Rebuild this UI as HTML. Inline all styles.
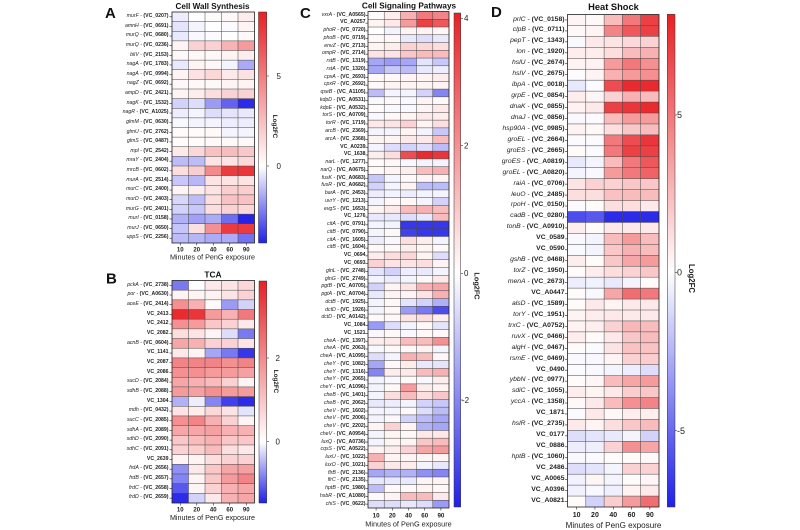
<!DOCTYPE html>
<html><head><meta charset="utf-8">
<style>
html,body{margin:0;padding:0;background:#fff}
body{width:800px;height:530px;overflow:hidden;position:relative;font-family:"Liberation Sans",Arial,sans-serif;color:#1e1e1e}
svg{position:absolute;left:0;top:0}
.l{position:absolute;text-align:right;white-space:nowrap;color:#222}
.l div{white-space:nowrap}
.l i{font-style:italic}
.l b{font-weight:bold}
</style></head><body>
<svg id="s" width="800" height="530" viewBox="0 0 800 530" font-family="Liberation Sans, Arial, sans-serif">
<defs>
<linearGradient id="gA" x1="0" y1="0" x2="0" y2="1"><stop offset="0" stop-color="rgb(232,32,36)"/><stop offset="0.667" stop-color="#fff"/><stop offset="1" stop-color="rgb(32,32,232)"/></linearGradient>
<linearGradient id="gB" x1="0" y1="0" x2="0" y2="1"><stop offset="0" stop-color="rgb(232,32,36)"/><stop offset="0.724" stop-color="#fff"/><stop offset="1" stop-color="rgb(32,32,232)"/></linearGradient>
<linearGradient id="gC" x1="0" y1="0" x2="0" y2="1"><stop offset="0" stop-color="rgb(232,32,36)"/><stop offset="0.527" stop-color="#fff"/><stop offset="1" stop-color="rgb(32,32,232)"/></linearGradient>
<linearGradient id="gD" x1="0" y1="0" x2="0" y2="1"><stop offset="0" stop-color="rgb(232,32,36)"/><stop offset="0.524" stop-color="#fff"/><stop offset="1" stop-color="rgb(32,32,232)"/></linearGradient>
</defs>
<!-- panel letters -->
<g font-weight="bold" font-size="15" fill="#111">
<text x="105" y="18">A</text>
<text x="106" y="283.5">B</text>
<text x="300" y="18">C</text>
<text x="491" y="17">D</text>
</g>
<!-- titles -->
<g font-weight="bold" fill="#111" text-anchor="middle">
<text x="212.5" y="8.8" font-size="8.1">Cell Wall Synthesis</text>
<text x="213" y="277.5" font-size="8.4">TCA</text>
<text x="409" y="8.6" font-size="8.2">Cell Signaling Pathways</text>
<text x="613.5" y="10" font-size="9.3">Heat Shock</text>
</g>
<!-- x tick labels -->
<g font-weight="bold" fill="#222" text-anchor="middle" font-size="6">
<text x="180.25" y="251.5">10</text><text x="196.75" y="251.5">20</text><text x="213.25" y="251.5">40</text><text x="229.75" y="251.5">60</text><text x="246.25" y="251.5">90</text>
<text x="180.25" y="511.5">10</text><text x="196.75" y="511.5">20</text><text x="213.25" y="511.5">40</text><text x="229.75" y="511.5">60</text><text x="246.25" y="511.5">90</text>
</g>
<g font-weight="bold" fill="#222" text-anchor="middle" font-size="6.2">
<text x="376.1" y="517.3">10</text><text x="392.3" y="517.3">20</text><text x="408.5" y="517.3">40</text><text x="424.7" y="517.3">60</text><text x="440.9" y="517.3">90</text>
</g>
<g font-weight="bold" fill="#222" text-anchor="middle" font-size="7">
<text x="576.65" y="517">10</text><text x="594.95" y="517">20</text><text x="613.25" y="517">40</text><text x="631.55" y="517">60</text><text x="649.85" y="517">90</text>
</g>
<!-- x titles -->
<g fill="#222" text-anchor="middle">
<text x="212.5" y="259.5" font-size="7.2">Minutes of PenG exposure</text>
<text x="212.5" y="520" font-size="7.2">Minutes of PenG exposure</text>
<text x="408.5" y="526.5" font-size="7.3">Minutes of PenG exposure</text>
<text x="613.5" y="527.8" font-size="8.1">Minutes of PenG exposure</text>
</g>
<!-- colorbars -->
<rect x="258.5" y="12" width="8.2" height="231" fill="url(#gA)" stroke="#333" stroke-width="0.5"/>
<rect x="259" y="281" width="7.7" height="222" fill="url(#gB)" stroke="#333" stroke-width="0.5"/>
<rect x="454" y="13" width="6.7" height="494" fill="url(#gC)" stroke="#333" stroke-width="0.5"/>
<rect x="667.3" y="14.3" width="7.7" height="492.7" fill="url(#gD)" stroke="#333" stroke-width="0.5"/>
<g stroke="#333" stroke-width="0.6">
<line x1="266.7" x2="269" y1="76" y2="76"/><line x1="266.7" x2="269" y1="166" y2="166"/>
<line x1="266.7" x2="269" y1="358" y2="358"/><line x1="266.7" x2="269" y1="441.7" y2="441.7"/>
<line x1="460.7" x2="463" y1="18.3" y2="18.3"/><line x1="460.7" x2="463" y1="145.7" y2="145.7"/><line x1="460.7" x2="463" y1="273.3" y2="273.3"/><line x1="460.7" x2="463" y1="400" y2="400"/>
<line x1="675" x2="677" y1="115" y2="115"/><line x1="675" x2="677" y1="272.3" y2="272.3"/><line x1="675" x2="677" y1="430.7" y2="430.7"/>
</g>
<g fill="#222" font-size="8">
<text x="276.5" y="78.9">5</text><text x="276.5" y="168.9">0</text>
<text x="275.5" y="360.9">2</text><text x="275.5" y="444.6">0</text>
<text x="464" y="21.2">4</text><text x="464" y="148.6">2</text><text x="464" y="276.2">0</text><text x="462" y="402.9">-2</text>
</g>
<g fill="#222" font-size="9">
<text x="677" y="118.2">5</text><text x="677" y="275.5">0</text><text x="677" y="433.9">-5</text>
</g>
<!-- Log2FC -->
<g font-weight="bold" fill="#222" text-anchor="middle">
<text transform="translate(272.8,126.5) rotate(90)" font-size="6.3">Log2FC</text>
<text transform="translate(273.8,381.5) rotate(90)" font-size="6.3">Log2FC</text>
<text transform="translate(474.4,286) rotate(90)" font-size="7.3">Log2FC</text>
<text transform="translate(689.2,278.5) rotate(90)" font-size="7.8">Log2FC</text>
</g>
</svg>

<!-- Row labels A -->
<div class="l" style="left:60px;top:12px;width:108.5px;font-size:5.2px;line-height:9.625px">
<div><i>murF</i> - <b>(VC_0207)</b></div>
<div><i>amnH</i> - <b>(VC_0691)</b></div>
<div><i>murQ</i> - <b>(VC_0680)</b></div>
<div><i>murQ</i> - <b>(VC_0236)</b></div>
<div><i>bliV</i> - <b>(VC_2153)</b></div>
<div><i>nagA</i> - <b>(VC_1783)</b></div>
<div><i>nagA</i> - <b>(VC_0994)</b></div>
<div><i>nagZ</i> - <b>(VC_0692)</b></div>
<div><i>ampD</i> - <b>(VC_2421)</b></div>
<div><i>nagK</i> - <b>(VC_1532)</b></div>
<div><i>nagR</i> - <b>(VC_A1025)</b></div>
<div><i>glmM</i> - <b>(VC_0630)</b></div>
<div><i>glmU</i> - <b>(VC_2762)</b></div>
<div><i>glmS</i> - <b>(VC_0487)</b></div>
<div><i>mpl</i> - <b>(VC_2542)</b></div>
<div><i>mraY</i> - <b>(VC_2404)</b></div>
<div><i>mrcB</i> - <b>(VC_0602)</b></div>
<div><i>murA</i> - <b>(VC_2514)</b></div>
<div><i>murC</i> - <b>(VC_2400)</b></div>
<div><i>murD</i> - <b>(VC_2403)</b></div>
<div><i>murG</i> - <b>(VC_2401)</b></div>
<div><i>murI</i> - <b>(VC_0158)</b></div>
<div><i>murJ</i> - <b>(VC_0650)</b></div>
<div><i>uppS</i> - <b>(VC_2256)</b></div>
</div>

<!-- Row labels B -->
<div class="l" style="left:60px;top:280.5px;width:108.5px;font-size:5.2px;line-height:9.674px">
<div><i>pckA</i> - <b>(VC_2738)</b></div>
<div><i>por</i> - <b>(VC_A0630)</b></div>
<div><i>aceE</i> - <b>(VC_2414)</b></div>
<div><b>VC_2413</b></div>
<div><b>VC_2412</b></div>
<div><b>VC_2082</b></div>
<div><i>acnB</i> - <b>(VC_0604)</b></div>
<div><b>VC_1141</b></div>
<div><b>VC_2087</b></div>
<div><b>VC_2086</b></div>
<div><i>sucD</i> - <b>(VC_2084)</b></div>
<div><i>sdhB</i> - <b>(VC_2088)</b></div>
<div><b>VC_1304</b></div>
<div><i>mdh</i> - <b>(VC_0432)</b></div>
<div><i>sucC</i> - <b>(VC_2085)</b></div>
<div><i>sdhA</i> - <b>(VC_2089)</b></div>
<div><i>sdhD</i> - <b>(VC_2090)</b></div>
<div><i>sdhC</i> - <b>(VC_2091)</b></div>
<div><b>VC_2639</b></div>
<div><i>frdA</i> - <b>(VC_2656)</b></div>
<div><i>frdB</i> - <b>(VC_2657)</b></div>
<div><i>frdC</i> - <b>(VC_2658)</b></div>
<div><i>frdD</i> - <b>(VC_2659)</b></div>
</div>

<!-- Row labels C -->
<div class="l" style="left:285px;top:11.5px;width:80.5px;font-size:5.2px;line-height:7.758px">
<div><i>vxrA</i> - <b>(VC_A0565)</b></div>
<div><b>VC_A0257</b></div>
<div><i>phoR</i> - <b>(VC_0720)</b></div>
<div><i>phoB</i> - <b>(VC_0719)</b></div>
<div><i>envZ</i> - <b>(VC_2713)</b></div>
<div><i>ompR</i> - <b>(VC_2714)</b></div>
<div><i>rstB</i> - <b>(VC_1319)</b></div>
<div><i>rstA</i> - <b>(VC_1320)</b></div>
<div><i>cpxA</i> - <b>(VC_2693)</b></div>
<div><i>cpxR</i> - <b>(VC_2692)</b></div>
<div><i>qseB</i> - <b>(VC_A1105)</b></div>
<div><i>kdpD</i> - <b>(VC_A0531)</b></div>
<div><i>kdpE</i> - <b>(VC_A0532)</b></div>
<div><i>torS</i> - <b>(VC_A0709)</b></div>
<div><i>torR</i> - <b>(VC_1719)</b></div>
<div><i>arcB</i> - <b>(VC_2369)</b></div>
<div><i>arcA</i> - <b>(VC_2368)</b></div>
<div><b>VC_A0239</b></div>
<div><b>VC_1638</b></div>
<div><i>narL</i> - <b>(VC_1277)</b></div>
<div><i>narQ</i> - <b>(VC_A0675)</b></div>
<div><i>fusK</i> - <b>(VC_A0683)</b></div>
<div><i>fusR</i> - <b>(VC_A0682)</b></div>
<div><i>barA</i> - <b>(VC_2453)</b></div>
<div><i>uvrY</i> - <b>(VC_1213)</b></div>
<div><i>evgS</i> - <b>(VC_1653)</b></div>
<div><b>VC_1276</b></div>
<div><i>citA</i> - <b>(VC_0791)</b></div>
<div><i>citB</i> - <b>(VC_0790)</b></div>
<div><i>citA</i> - <b>(VC_1605)</b></div>
<div><i>citB</i> - <b>(VC_1604)</b></div>
<div><b>VC_0694</b></div>
<div><b>VC_0693</b></div>
<div><i>glnL</i> - <b>(VC_2748)</b></div>
<div><i>glnG</i> - <b>(VC_2749)</b></div>
<div><i>pgtB</i> - <b>(VC_A0705)</b></div>
<div><i>pgtA</i> - <b>(VC_A0704)</b></div>
<div><i>dctB</i> - <b>(VC_1925)</b></div>
<div><i>dctD</i> - <b>(VC_1926)</b></div>
<div><i>dctD</i> - <b>(VC_A0142)</b></div>
<div><b>VC_1084</b></div>
<div><b>VC_1521</b></div>
<div><i>cheA</i> - <b>(VC_1397)</b></div>
<div><i>cheA</i> - <b>(VC_2063)</b></div>
<div><i>cheA</i> - <b>(VC_A1095)</b></div>
<div><i>cheY</i> - <b>(VC_1082)</b></div>
<div><i>cheY</i> - <b>(VC_1316)</b></div>
<div><i>cheY</i> - <b>(VC_2065)</b></div>
<div><i>cheY</i> - <b>(VC_A1096)</b></div>
<div><i>cheB</i> - <b>(VC_1401)</b></div>
<div><i>cheB</i> - <b>(VC_2062)</b></div>
<div><i>cheV</i> - <b>(VC_1602)</b></div>
<div><i>cheV</i> - <b>(VC_2006)</b></div>
<div><i>cheV</i> - <b>(VC_2202)</b></div>
<div><i>cheV</i> - <b>(VC_A0954)</b></div>
<div><i>luxQ</i> - <b>(VC_A0736)</b></div>
<div><i>cqsS</i> - <b>(VC_A0522)</b></div>
<div><i>luxU</i> - <b>(VC_1022)</b></div>
<div><i>luxO</i> - <b>(VC_1021)</b></div>
<div><i>flrB</i> - <b>(VC_2136)</b></div>
<div><i>flrC</i> - <b>(VC_2135)</b></div>
<div><i>hptB</i> - <b>(VC_1980)</b></div>
<div><i>hsbR</i> - <b>(VC_A1080)</b></div>
<div><i>chiS</i> - <b>(VC_0622)</b></div>
</div>

<!-- Row labels D -->
<div class="l" style="left:470px;top:14.5px;width:94.5px;font-size:6.8px;line-height:10.944px">
<div><i>prlC</i> - <b>(VC_0158)</b></div>
<div><i>clpB</i> - <b>(VC_0711)</b></div>
<div><i>pepT</i> - <b>(VC_1343)</b></div>
<div><i>lon</i> - <b>(VC_1920)</b></div>
<div><i>hslU</i> - <b>(VC_2674)</b></div>
<div><i>hslV</i> - <b>(VC_2675)</b></div>
<div><i>ibpA</i> - <b>(VC_0018)</b></div>
<div><i>grpE</i> - <b>(VC_0854)</b></div>
<div><i>dnaK</i> - <b>(VC_0855)</b></div>
<div><i>dnaJ</i> - <b>(VC_0856)</b></div>
<div><i>hsp90A</i> - <b>(VC_0985)</b></div>
<div><i>groEL</i> - <b>(VC_2664)</b></div>
<div><i>groES</i> - <b>(VC_2665)</b></div>
<div><i>groES</i> - <b>(VC_A0819)</b></div>
<div><i>groEL</i> - <b>(VC_A0820)</b></div>
<div><i>raiA</i> - <b>(VC_0706)</b></div>
<div><i>leuO</i> - <b>(VC_2485)</b></div>
<div><i>rpoH</i> - <b>(VC_0150)</b></div>
<div><i>cadB</i> - <b>(VC_0280)</b></div>
<div><i>tonB</i> - <b>(VC_A0910)</b></div>
<div><b>VC_0589</b></div>
<div><b>VC_0590</b></div>
<div><i>gshB</i> - <b>(VC_0468)</b></div>
<div><i>torZ</i> - <b>(VC_1950)</b></div>
<div><i>menA</i> - <b>(VC_2673)</b></div>
<div><b>VC_A0447</b></div>
<div><i>alsD</i> - <b>(VC_1589)</b></div>
<div><i>torY</i> - <b>(VC_1951)</b></div>
<div><i>trxC</i> - <b>(VC_A0752)</b></div>
<div><i>ruvX</i> - <b>(VC_0466)</b></div>
<div><i>algH</i> - <b>(VC_0467)</b></div>
<div><i>rsmE</i> - <b>(VC_0469)</b></div>
<div><b>VC_0490</b></div>
<div><i>ybbN</i> - <b>(VC_0977)</b></div>
<div><i>sdiC</i> - <b>(VC_1055)</b></div>
<div><i>yccA</i> - <b>(VC_1358)</b></div>
<div><b>VC_1871</b></div>
<div><i>hslR</i> - <b>(VC_2735)</b></div>
<div><b>VC_0177</b></div>
<div><b>VC_0886</b></div>
<div><i>hptB</i> - <b>(VC_1060)</b></div>
<div><b>VC_2486</b></div>
<div><b>VC_A0065</b></div>
<div><b>VC_A0396</b></div>
<div><b>VC_A0821</b></div>
</div>

<script>
(function(){
var NS="http://www.w3.org/2000/svg",S=document.getElementById("s");
function el(n,a){var e=document.createElementNS(NS,n);for(var k in a)e.setAttribute(k,a[k]);S.appendChild(e);return e;}
function col(t){t=Math.max(-1,Math.min(1,t));var c=t<0?[32,32,232]:[232,32,36],a=Math.abs(t);
return "rgb("+Math.round(255+(c[0]-255)*a)+","+Math.round(255+(c[1]-255)*a)+","+Math.round(255+(c[2]-255)*a)+")";}
function hm(x0,y0,w,h,d){var n=d.length/5,cw=w/5,rh=h/n,r,c;
for(r=0;r<n;r++)for(c=0;c<5;c++)el("rect",{x:x0+c*cw,y:y0+r*rh,width:cw+0.05,height:rh+0.05,fill:col(d[r*5+c])});
for(c=1;c<5;c++)el("line",{x1:x0+c*cw,x2:x0+c*cw,y1:y0,y2:y0+h,stroke:"#444","stroke-width":0.5});
for(r=1;r<n;r++)el("line",{x1:x0,x2:x0+w,y1:y0+r*rh,y2:y0+r*rh,stroke:"#444","stroke-width":0.5});
el("rect",{x:x0,y:y0,width:w,height:h,fill:"none",stroke:"#222","stroke-width":0.8});
for(r=0;r<n;r++)el("line",{x1:x0-2.5,x2:x0,y1:y0+(r+0.5)*rh,y2:y0+(r+0.5)*rh,stroke:"#222","stroke-width":0.6});
for(c=0;c<5;c++)el("line",{x1:x0+(c+0.5)*cw,x2:x0+(c+0.5)*cw,y1:y0+h,y2:y0+h+2.5,stroke:"#222","stroke-width":0.6});
}
var A=[-.08,0,.02,.03,.08, -.12,-.05,0,-.02,.05, -.1,-.03,-.02,0,.03, .05,.2,.2,.34,.45, .03,.03,.03,.05,.08,
-.1,.05,.03,-.05,-.38, .05,.13,.18,.1,.13, .03,.03,.03,.05,.05, .05,.08,.15,.2,.2, -.2,-.15,-.45,-.7,-.95,
-.08,-.05,-.15,-.12,-.1, -.03,-.05,-.05,-.08,-.08, .02,.02,.03,-.05,-.05, .02,.02,.03,.03,.03, .1,.18,.28,.3,.25,
-.3,-.3,.12,.12,.17, .15,.22,.52,.87,.9, -.25,-.32,.12,.12,.12, .05,.08,.12,.22,.22, -.18,-.3,.15,.28,.28,
-.2,-.25,.15,.2,.18, -.35,-.42,-.37,-.65,-.98, -.26,.14,.5,.88,.88, -.3,-.33,-.37,-.37,-.63];
var B=[-.6,0,.1,.12,.18, .05,.05,.06,.12,.2, .5,.35,.02,-.45,-.2, .95,.9,.45,.35,.6, .5,.45,.25,.2,.1,
.15,.12,.05,-.15,-.6, .4,.35,.2,.2,.12, .1,.05,-.4,-.6,-.9, .55,.55,.55,.5,.55, .5,.5,.45,.45,.42,
.4,.35,.3,.2,.05, .45,.42,.5,.45,.45, -.35,-.08,-.55,-.85,-.95, .12,.08,.18,.12,-.12, .5,.55,.35,.2,.05,
.4,.4,.42,.35,.35, .25,.3,.35,.25,.25, .2,.22,.3,.15,.1, .05,.05,.15,.2,.2, -.5,.1,.25,.4,.42,
-.55,.05,.25,.45,.55, -.75,.05,.2,.35,.4, -.95,-.2,.1,.35,.4];
var C=[.02,.08,.35,.6,.55, .05,.1,.45,.85,.75, 0,-.05,.05,.05,.03, .03,.03,-.1,-.15,-.1, .05,.08,.2,.18,.15,
.12,.12,.25,.3,.3, -.4,-.45,-.4,-.12,-.25, -.4,-.25,-.3,-.1,-.08, .03,.03,.05,.05,.08, .03,.05,.05,.05,.05,
-.3,-.05,-.05,-.2,-.55, -.03,.03,-.03,.05,.03, .02,-.03,-.03,.05,.1, -.03,.03,.05,.1,.08, .1,.12,.2,.05,.15,
-.05,-.05,.05,-.05,-.25, .05,.05,.1,.1,.3, -.05,-.15,-.2,-.15,-.3, .08,.15,.8,.95,.9, .02,.03,-.03,-.05,-.05,
.03,.05,.08,.3,.35, -.25,-.05,.03,.05,.05, -.2,-.05,.05,-.3,-.3, -.08,-.05,-.08,-.05,-.05, -.05,.03,.03,-.05,-.2,
.05,.1,.3,.35,.3, -.1,-.1,-.15,-.1,.3, -.05,-.05,-.9,-.9,-.9, -.05,.03,-.85,-.9,-.9, -.08,-.03,.15,.08,-.05,
.03,.03,.08,.05,.03, .08,.15,.18,.05,-.15, .2,.12,.12,.15,.05, -.12,-.2,-.08,-.1,-.05, -.05,-.08,-.05,.03,.1,
-.2,.05,.12,.35,.4, -.1,.05,.05,.12,.35, -.05,.03,-.12,-.2,-.35, -.05,.03,-.45,-.6,-.8, .03,.03,.12,.15,.08,
-.45,-.15,-.05,.03,-.12, -.03,.03,-.03,.03,.03, .08,.1,.3,.3,.5, -.03,.03,.03,.05,-.05, -.15,-.05,.35,.3,.03,
-.4,.03,.08,-.1,-.12, -.55,.08,.1,.3,.35, -.05,-.03,.03,-.03,.08, -.05,.03,.45,.08,.05, -.05,.15,.3,.15,.25,
-.1,-.08,-.05,-.2,-.25, -.05,-.05,.03,-.15,-.3, -.05,.03,-.2,-.3,-.4, .05,.2,.05,-.35,-.4, -.05,.05,.03,.1,.1,
-.05,.05,.05,.25,.3, .05,.08,.2,.4,.45, .35,.05,.05,.05,.05, .2,.1,.08,-.05,-.1, -.4,-.35,-.35,-.5,-.55,
-.1,-.1,-.1,.05,.05, -.3,.03,.03,.05,.03, .03,.05,.3,.3,.1, -.15,-.15,-.1,-.15,-.45];
var D=[.05,.03,.3,.6,.85, .03,.05,.55,.75,.85, -.03,.1,.12,.17,.2, .08,.08,.15,.3,.35, .05,.06,.45,.6,.5,
-.02,.05,.35,.45,.5, -.1,-.02,.8,.95,.95, .08,.04,.2,.35,.3, .06,.1,.85,.9,.95, -.03,-.02,.3,.45,.45,
.06,.03,.15,.25,.3, -.02,-.02,.6,.8,.9, .02,-.02,.6,.85,.85, -.1,-.05,.3,.6,.75, -.05,-.03,.45,.6,.7,
.12,.2,.2,.25,.25, .15,.15,.28,.3,.3, -.02,.02,.15,.15,.1, -.8,-.75,-.95,-.95,-.95, .08,.02,.1,.1,.1,
-.03,-.05,.3,.45,.3, -.03,-.05,.25,.35,.3, .08,.02,.25,.4,.45, .02,.08,.15,.2,.25, -.08,-.06,-.1,-.05,.02,
.02,-.03,.4,.65,.6, .02,.1,.05,.1,.1, .05,.08,.1,.1,.1, .06,.07,.2,.32,.3, .08,.02,.1,.25,.3,
.02,-.02,.12,.27,.27, -.03,-.03,.05,.2,.22, -.02,-.03,-.05,-.08,-.15, .02,.04,.3,.4,.45, .08,.05,.1,.22,.25,
.03,.1,.3,.5,.55, -.02,.1,.03,.08,.07, .1,.05,.15,.25,.3, -.15,-.12,-.1,-.05,-.2, -.08,-.07,.2,.5,.4,
-.03,-.02,.02,.02,.03, -.15,-.12,-.05,.2,.2, -.06,.04,-.05,.02,.04, -.06,-.03,-.07,.06,.1, .02,-.2,.22,.45,.65];
hm(172,12,82.5,231,A);
hm(172,280.5,82.5,222.5,B);
hm(368,11.5,81,496.5,C);
hm(567.5,14.5,91.5,492.5,D);
})();
</script>
</body></html>
